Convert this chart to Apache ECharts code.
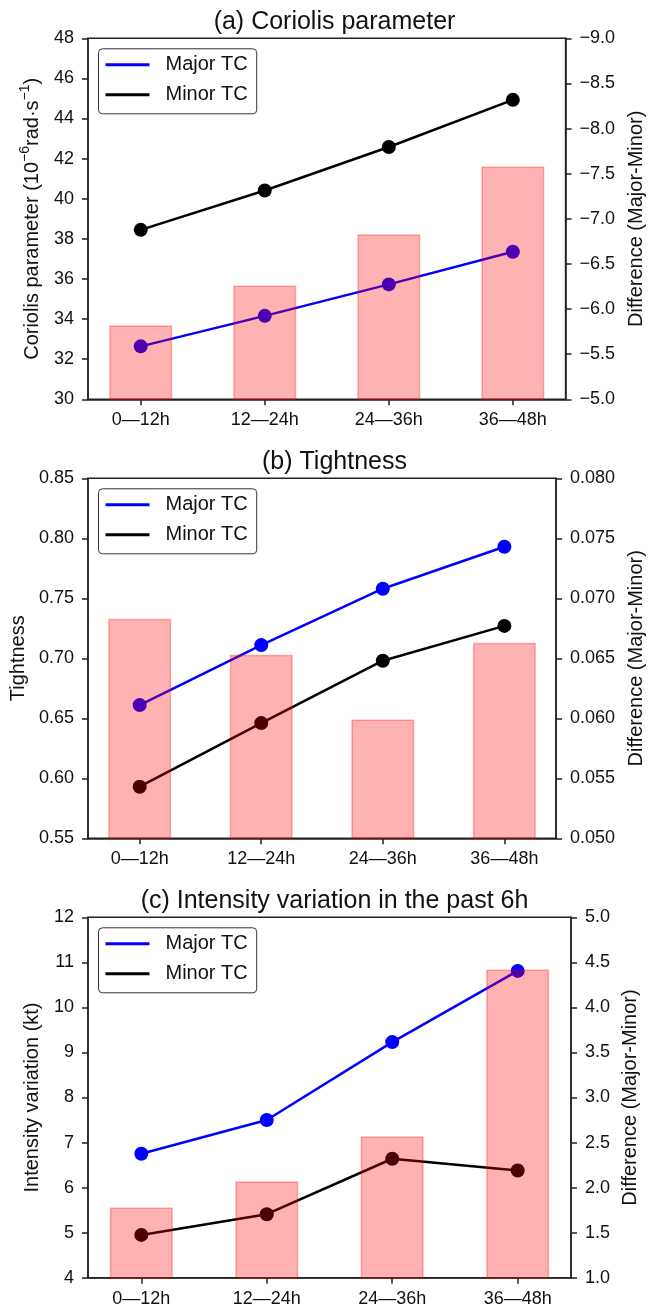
<!DOCTYPE html>
<html>
<head>
<meta charset="utf-8">
<script src="https://cdn.jsdelivr.net/npm/echarts@6/dist/echarts.min.js"></script>
<style>html,body{margin:0;padding:0;background:#fff;}#c{width:654px;height:1308px;}</style>
</head>
<body>
<div id="c"></div>
<script>
// ---- data ----
const categories = ['0\u201412h', '12\u201424h', '24\u201436h', '36\u201448h'];
const seriesNames = ['Major TC', 'Minor TC'];

const titles = ['(a) Coriolis parameter', '(b) Tightness', '(c) Intensity variation in the past 6h'];
const leftNames = ['{n|Coriolis parameter (10}{s|\u22126}{n|rad\u00B7s}{s|\u22121}{n|)}', 'Tightness', 'Intensity variation (kt)'];
const rightName = 'Difference (Major-Minor)';

const coriolisMajor = [32.64, 34.16, 35.73, 37.36];
const coriolisMinor = [38.45, 40.41, 42.58, 44.93];
const coriolisDiff = [-5.82, -6.26, -6.83, -7.58];

const tightMajor = [0.661, 0.711, 0.758, 0.793];
const tightMinor = [0.593, 0.646, 0.698, 0.727];
const tightDiff = [0.0683, 0.0653, 0.0599, 0.0663];

const intMajor = [6.75, 7.50, 9.23, 10.81];
const intMinor = [4.95, 5.41, 6.64, 6.38];
const intDiff = [1.78, 2.07, 2.57, 4.42];

// axis ranges [min, max, interval, decimals]
const leftTicks = [[30, 48, 2, 0], [0.55, 0.85, 0.05, 2], [4, 12, 1, 0]];
const rightTicks = [[-9, -5, 0.5, 1], [0.05, 0.08, 0.005, 3], [1, 5, 0.5, 1]];

// ---- layout ----
const FONT = "'Liberation Sans', Arial, Helvetica, sans-serif";
const gridTops = [38.3, 478.3, 917.3];
const gridH = [361, 360, 360.4];
const gridLeft = 88, gridW = 483;
const leftGaps = [46, 58, 46];
const rightGaps = [57, 68, 48];
const axisColor = '#222';

const majorAll = [coriolisMajor, tightMajor, intMajor];
const minorAll = [coriolisMinor, tightMinor, intMinor];
const diffAll = [coriolisDiff, tightDiff, intDiff];

function fmt(v, d) {
  const s = Math.abs(v).toFixed(d);
  return (v < -1e-12 ? '\u2212' : '') + s;
}

const option = {
  animation: false,
  backgroundColor: '#fff',
  textStyle: { fontFamily: FONT },
  title: [], legend: [], grid: [], xAxis: [], yAxis: [], series: []
};

for (let p = 0; p < 3; p++) {
  option.title.push({
    text: titles[p], left: gridLeft + gridW / 2, textAlign: 'center',
    top: gridTops[p] - 34,
    textStyle: { fontFamily: FONT, fontSize: 25, fontWeight: 'normal', color: '#111' }
  });
  option.grid.push({
    left: gridLeft, top: gridTops[p], width: gridW, height: gridH[p],
    show: true, borderColor: axisColor, borderWidth: 1.5, backgroundColor: 'transparent'
  });
  option.legend.push({
    left: 98.5, top: gridTops[p] + 10.5, orient: 'vertical',
    data: seriesNames.map(n => ({ name: n, icon: 'rect' })),
    itemWidth: 44, itemHeight: 3, itemGap: 10,
    padding: [6, 9, 9, 7],
    borderColor: '#333', borderWidth: 1, borderRadius: 4, backgroundColor: '#fff',
    selectedMode: false,
    textStyle: { fontFamily: FONT, fontSize: 20, color: '#111', padding: [0, 0, 0, 11] }
  });
  option.xAxis.push({
    type: 'value', gridIndex: p, min: -0.425, max: 3.425,
    axisLine: { show: true, onZero: false, lineStyle: { color: axisColor, width: 1.5 } },
    axisTick: { show: true, length: 6, lineStyle: { color: axisColor, width: 1.5 }, customValues: [0, 1, 2, 3] },
    axisLabel: {
      customValues: [0, 1, 2, 3], margin: 12,
      fontFamily: FONT, fontSize: 18, color: '#111',
      formatter: v => categories[Math.round(v)]
    },
    splitLine: { show: false }
  });
  const L = leftTicks[p], R = rightTicks[p];
  option.yAxis.push({
    type: 'value', gridIndex: p, position: 'left', min: L[0], max: L[1], interval: L[2],
    name: leftNames[p], nameLocation: 'middle', nameRotate: 90, nameGap: leftGaps[p],
    nameTextStyle: {
      fontFamily: FONT, fontSize: 20, color: '#111',
      rich: {
        n: { fontFamily: FONT, fontSize: 20, color: '#111', lineHeight: 24, verticalAlign: 'bottom' },
        s: { fontFamily: FONT, fontSize: 14, color: '#111', lineHeight: 24, verticalAlign: 'top' }
      }
    },
    axisLine: { show: true, onZero: false, lineStyle: { color: axisColor, width: 1.5 } },
    axisTick: { show: true, length: 6, lineStyle: { color: axisColor, width: 1.5 } },
    axisLabel: { margin: 14, fontFamily: FONT, fontSize: 18, color: '#111', formatter: v => fmt(v, L[3]) },
    splitLine: { show: false }
  });
  option.yAxis.push({
    type: 'value', gridIndex: p, position: 'right', min: R[0], max: R[1], interval: R[2],
    inverse: p === 0,
    name: rightName, nameLocation: 'middle', nameRotate: 90, nameGap: rightGaps[p],
    nameTextStyle: { fontFamily: FONT, fontSize: 20, color: '#111' },
    axisLine: { show: true, onZero: false, lineStyle: { color: axisColor, width: 1.5 } },
    axisTick: { show: true, length: 6, lineStyle: { color: axisColor, width: 1.5 } },
    axisLabel: { margin: 14, fontFamily: FONT, fontSize: 18, color: '#111', formatter: v => fmt(v, R[3]) },
    splitLine: { show: false }
  });
  const colors = ['#0000ff', '#000000'];
  [majorAll[p], minorAll[p]].forEach((arr, k) => {
    option.series.push({
      type: 'line', name: seriesNames[k], xAxisIndex: p, yAxisIndex: 2 * p,
      data: arr.map((v, i) => [i, v]),
      symbol: 'circle', symbolSize: 14, z: 2,
      lineStyle: { color: colors[k], width: 2.5 },
      itemStyle: { color: colors[k] }
    });
  });
  option.series.push({
    type: 'bar', name: 'Difference', xAxisIndex: p, yAxisIndex: 2 * p + 1,
    data: diffAll[p].map((v, i) => [i, v]),
    barWidth: 63, clip: true, z: 3,
    itemStyle: { color: 'rgba(255,0,0,0.3)', borderColor: 'rgba(255,0,0,0.3)', borderWidth: 1.5 }
  });
}

const chart = echarts.init(document.getElementById('c'), null, { renderer: 'canvas' });
chart.setOption(option);
</script>
</body>
</html>
